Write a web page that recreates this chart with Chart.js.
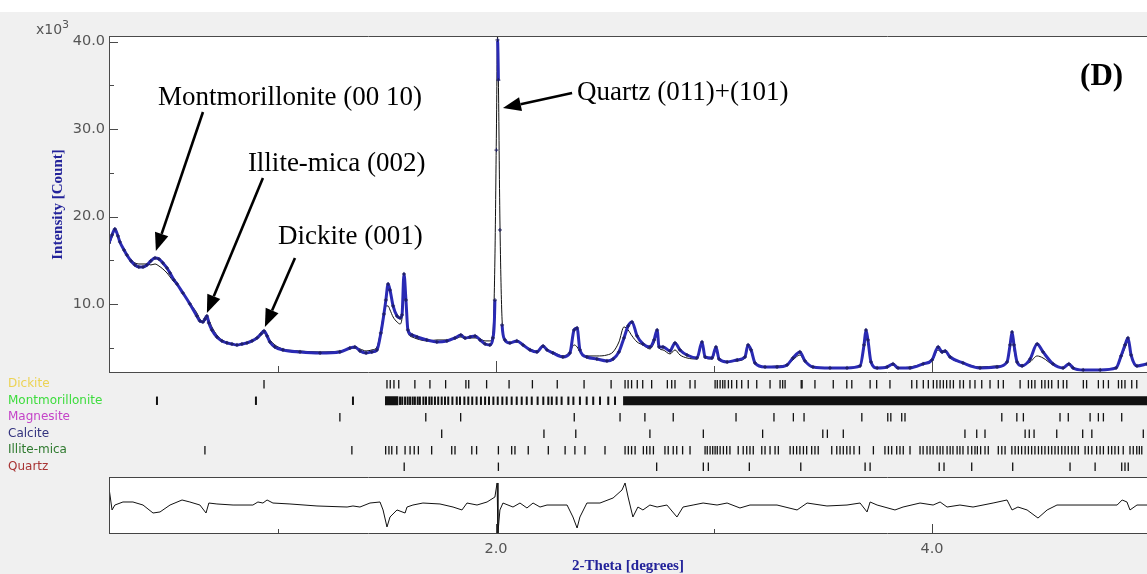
<!DOCTYPE html>
<html>
<head>
<meta charset="utf-8">
<title>Rietveld fit (D)</title>
<script src="https://cdn.jsdelivr.net/npm/chart.js@4.4.1/dist/chart.umd.min.js"></script>
<style>
  html, body { margin: 0; padding: 0; }
  body { width: 1147px; height: 574px; position: relative; overflow: hidden; background: #f0f0f0; }
  #topStrip { position: absolute; left: 0; top: 0; width: 1147px; height: 12px; background: #fff; }
  canvas { position: absolute; left: 0; }
  #main { top: 0; }
  #phases { top: 374px; }
  #diff { top: 470px; }
  #mult { position: absolute; left: 36px; top: 18px; font: 14px 'DejaVu Sans', sans-serif; color: #555; }
  #mult sup { font-size: 11px; }
</style>
</head>
<body>
<div id="topStrip"></div>
<canvas id="main" width="1147" height="380"></canvas>
<canvas id="phases" width="1147" height="103"></canvas>
<canvas id="diff" width="1147" height="104"></canvas>
<div id="mult">x10<sup>3</sup></div>

<script>
// --- data (2-theta in degrees, intensity in 10^3 counts) ---
const twoTheta = [
  0.225, 0.239, 0.252, 0.266, 0.275, 0.294, 0.307, 0.326, 0.344, 0.362,
  0.381, 0.399, 0.417, 0.436, 0.454, 0.472, 0.491, 0.505, 0.523, 0.537,
  0.564, 0.596, 0.628, 0.642, 0.656, 0.665, 0.674, 0.683, 0.697, 0.720,
  0.743, 0.766, 0.789, 0.812, 0.835, 0.858, 0.881, 0.904, 0.922, 0.936,
  0.950, 0.963, 0.986, 1.023, 1.101, 1.193, 1.284, 1.330, 1.353, 1.376,
  1.404, 1.431, 1.454, 1.472, 1.486, 1.495, 1.505, 1.514, 1.528, 1.546,
  1.560, 1.569, 1.578, 1.587, 1.596, 1.615, 1.638, 1.683, 1.729, 1.775,
  1.812, 1.839, 1.858, 1.881, 1.904, 1.927, 1.950, 1.972, 1.986, 1.995,
  2.002, 2.007, 2.011, 2.018, 2.028, 2.041, 2.064, 2.096, 2.124, 2.156,
  2.188, 2.216, 2.234, 2.261, 2.307, 2.339, 2.358, 2.372, 2.385, 2.417,
  2.463, 2.509, 2.537, 2.564, 2.587, 2.606, 2.624, 2.647, 2.674, 2.706,
  2.725, 2.739, 2.748, 2.766, 2.798, 2.821, 2.844, 2.876, 2.922, 2.945,
  2.959, 2.991, 3.009, 3.023, 3.060, 3.106, 3.142, 3.156, 3.170, 3.188,
  3.234, 3.289, 3.335, 3.362, 3.394, 3.417, 3.454, 3.532, 3.610, 3.670,
  3.688, 3.697, 3.706, 3.720, 3.748, 3.794, 3.821, 3.844, 3.899, 3.959,
  4.000, 4.028, 4.046, 4.060, 4.083, 4.142, 4.220, 4.298, 4.344, 4.358,
  4.367, 4.376, 4.390, 4.413, 4.450, 4.482, 4.509, 4.555, 4.601, 4.628,
  4.647, 4.693, 4.771, 4.844, 4.867, 4.885, 4.899, 4.913, 4.940, 4.986
];
const observed = [
  16.97, 17.89, 18.57, 17.77, 17.09, 16.17, 15.60, 14.92, 14.46, 14.23,
  14.23, 14.46, 14.92, 15.26, 15.14, 14.69, 14.11, 13.54, 12.74, 12.28,
  11.25, 10.00, 8.62, 8.05, 7.94, 8.28, 8.62, 7.82, 7.02, 6.22,
  5.77, 5.54, 5.42, 5.31, 5.42, 5.54, 5.77, 6.11, 6.56, 6.91,
  6.34, 5.65, 5.08, 4.74, 4.51, 4.39, 4.51, 4.96, 5.08, 4.62,
  4.39, 4.51, 4.74, 6.68, 8.85, 10.45, 12.28, 11.59, 9.77, 8.62,
  8.40, 8.74, 13.43, 10.45, 7.02, 6.45, 6.22, 5.88, 5.65, 5.77,
  6.11, 6.45, 6.11, 6.22, 6.34, 5.88, 5.42, 5.31, 6.11, 10.45,
  27.6, 40.2, 35.6, 18.46, 7.6, 5.88, 5.54, 5.77, 5.31, 4.74,
  4.51, 5.19, 4.74, 4.39, 3.93, 4.39, 7.02, 7.25, 4.74, 3.93,
  3.70, 3.48, 3.70, 4.51, 6.11, 7.48, 7.94, 6.34, 5.42, 5.08,
  5.88, 7.02, 5.08, 5.08, 4.62, 5.54, 4.74, 4.16, 3.82, 5.65,
  3.93, 3.82, 5.08, 3.70, 3.36, 3.59, 3.93, 5.31, 4.74, 3.25,
  2.79, 2.79, 3.02, 3.82, 4.51, 3.48, 2.79, 2.68, 2.68, 2.91,
  5.31, 7.02, 5.88, 3.36, 2.68, 2.79, 3.14, 2.68, 2.68, 3.14,
  3.59, 5.08, 4.51, 4.62, 3.93, 3.25, 2.68, 2.79, 3.36, 5.31,
  6.79, 5.31, 3.36, 2.91, 3.70, 5.42, 4.51, 3.14, 2.68, 3.14,
  2.68, 2.45, 2.45, 2.68, 4.05, 5.31, 6.11, 4.16, 2.91, 3.14
];
const calculated = [
  16.63, 17.66, 18.35, 17.66, 16.97, 16.17, 15.60, 15.03, 14.69, 14.57,
  14.57, 14.57, 14.46, 14.57, 14.34, 14.00, 13.54, 13.09, 12.51, 12.17,
  11.25, 10.11, 8.97, 8.28, 7.94, 8.05, 8.40, 8.17, 7.37, 6.45,
  5.88, 5.65, 5.42, 5.31, 5.42, 5.54, 5.77, 6.00, 6.45, 6.68,
  6.34, 5.88, 5.31, 4.85, 4.62, 4.51, 4.62, 4.85, 4.96, 4.85,
  4.62, 4.74, 5.08, 7.02, 9.08, 9.77, 9.77, 9.31, 8.51, 7.94,
  7.71, 8.40, 11.60, 9.88, 6.79, 6.22, 6.00, 5.77, 5.88, 5.88,
  6.00, 6.22, 6.00, 6.11, 6.11, 6.00, 5.77, 5.77, 6.79, 15.03,
  29.9, 40.6, 35.6, 19.6, 8.17, 5.77, 5.54, 5.65, 5.31, 4.85,
  4.62, 5.08, 4.74, 4.51, 4.05, 4.51, 5.31, 5.08, 4.51, 4.05,
  4.05, 4.16, 4.51, 5.65, 7.37, 7.02, 6.34, 5.65, 5.31, 4.85,
  5.54, 6.45, 4.96, 4.74, 4.28, 4.74, 4.16, 3.82, 3.70, 5.31,
  3.82, 3.70, 4.74, 3.59, 3.36, 3.48, 3.82, 5.08, 4.51, 3.25,
  2.79, 2.91, 3.02, 3.59, 4.16, 3.36, 2.79, 2.68, 2.68, 2.91,
  4.96, 6.11, 5.65, 3.36, 2.68, 2.79, 3.02, 2.68, 2.79, 3.14,
  3.48, 4.74, 4.39, 4.51, 3.82, 3.25, 2.79, 2.91, 3.25, 5.31,
  6.22, 4.74, 3.36, 3.02, 3.36, 4.05, 3.82, 3.02, 2.68, 3.14,
  2.68, 2.45, 2.45, 2.68, 3.82, 4.96, 5.65, 4.05, 2.91, 3.14
];

// observed minus calculated (10^3 counts)
const diffTheta = [
  0.225, 0.239, 0.252, 0.289, 0.335, 0.381, 0.427, 0.459, 0.505, 0.560,
  0.596, 0.642, 0.670, 0.683, 0.720, 0.794, 0.885, 0.908, 0.931, 0.950,
  0.977, 1.055, 1.179, 1.317, 1.344, 1.376, 1.422, 1.468, 1.482, 1.500,
  1.514, 1.546, 1.583, 1.592, 1.619, 1.665, 1.743, 1.803, 1.844, 1.867,
  1.913, 1.959, 1.995, 2.005, 2.009, 2.018, 2.032, 2.078, 2.110, 2.142,
  2.170, 2.202, 2.234, 2.326, 2.353, 2.372, 2.385, 2.417, 2.477, 2.537,
  2.578, 2.592, 2.606, 2.628, 2.651, 2.674, 2.706, 2.739, 2.784, 2.830,
  2.858, 2.904, 2.950, 3.014, 3.060, 3.119, 3.165, 3.289, 3.381, 3.427,
  3.518, 3.610, 3.670, 3.702, 3.716, 3.748, 3.830, 3.867, 3.945, 4.005,
  4.037, 4.069, 4.128, 4.188, 4.280, 4.344, 4.367, 4.394, 4.436, 4.486,
  4.528, 4.573, 4.665, 4.849, 4.872, 4.894, 4.908, 4.940, 4.986
];
const difference = [
  1.84, -0.47, 0.05, 0.37, 0.37, 0.05, -0.79, -0.68, 0.05, 0.58,
  0.37, 0.05, -0.79, 0.26, 0.16, 0.05, 0.05, 0.37, 0.26, 0.58,
  0.26, 0.16, -0.05, -0.16, -0.05, -0.16, 0.26, 0.37, -0.47, -2.26,
  -1.21, -0.47, -0.79, -0.16, 0.05, 0.26, 0.16, -0.16, -0.47, 0.26,
  0.05, 0.37, 0.89, 2.37, -2.89, -0.47, 0.26, -0.16, 0.26, -0.26,
  0.26, -0.16, 0.05, 0.05, -1.21, -2.37, -1.21, 0.26, 0.26, 0.79,
  1.63, 2.37, 0.89, -1.21, -0.16, -0.47, 0.05, -0.16, 0.05, -1.21,
  -0.16, 0.05, 0.26, 0.05, 0.26, -0.26, 0.05, 0.05, -0.47, 0.26,
  -0.05, 0.05, 0.26, -0.68, 0.37, 0.05, -0.47, -0.16, 0.26, 0.05,
  0.37, -0.16, 0.05, -0.16, 0.26, 0.58, -0.47, -0.16, -0.47, -1.32,
  -0.47, 0.05, 0.05, 0.05, 0.58, 0.37, -0.47, 0.05, 0.05
];

// reference reflection positions (2-theta) per phase
const phaseNames = ['Dickite', 'Montmorillonite', 'Magnesite', 'Calcite', 'Illite-mica', 'Quartz'];
const phaseColors = ['#ecd354', '#3ddc3d', '#c443c8', '#33337e', '#2f7a2f', '#a83434'];
const dickitePeaks = [
  0.936, 1.500, 1.515, 1.532, 1.554, 1.628, 1.697, 1.769, 1.862, 1.875,
  1.957, 2.060, 2.167, 2.281, 2.404, 2.528, 2.592, 2.606, 2.622, 2.648,
  2.673, 2.714, 2.786, 2.806, 2.821, 2.890, 2.913, 3.005, 3.015, 3.028,
  3.040, 3.050, 3.066, 3.081, 3.104, 3.127, 3.157, 3.196, 3.257, 3.303,
  3.315, 3.326, 3.400, 3.404, 3.463, 3.547, 3.609, 3.632, 3.716, 3.746,
  3.807, 3.907, 3.930, 3.960, 3.983, 4.006, 4.022, 4.037, 4.052, 4.067,
  4.083, 4.098, 4.128, 4.144, 4.174, 4.197, 4.228, 4.266, 4.304, 4.327,
  4.404, 4.442, 4.457, 4.472, 4.503, 4.518, 4.534, 4.549, 4.579, 4.602,
  4.618, 4.694, 4.709, 4.763, 4.786, 4.809, 4.855, 4.870, 4.885, 4.916,
  4.939
];
const montmorillonitePeaks = [
  0.445, 0.899, 1.344, 1.560, 1.570, 1.583, 1.595, 1.606, 1.618, 1.628,
  1.641, 1.651, 1.667, 1.679, 1.694, 1.705, 1.720, 1.735, 1.751, 1.766,
  1.781, 1.800, 1.820, 1.835, 1.855, 1.873, 1.891, 1.911, 1.931, 1.950,
  1.968, 1.988, 2.008, 2.029, 2.049, 2.072, 2.095, 2.118, 2.141, 2.164,
  2.191, 2.217, 2.240, 2.256, 2.278, 2.301, 2.332, 2.355, 2.385, 2.416,
  2.446, 2.477, 2.515, 2.546
];
// ranges where montmorillonite reflections merge into a solid band
const montmorilloniteBands = [[1.491, 1.552], [2.583, 4.986]];
const magnesitePeaks = [
  1.284, 1.678, 1.838, 2.359, 2.569, 2.683, 2.813, 3.101, 3.275, 3.364,
  3.413, 3.678, 3.797, 3.811, 3.861, 3.876, 4.320, 4.389, 4.419, 4.587,
  4.625, 4.725, 4.763, 4.786, 4.870
];
const calcitePeaks = [
  1.751, 2.220, 2.366, 2.706, 2.951, 3.223, 3.499, 3.520, 3.593, 4.151,
  4.205, 4.243, 4.427, 4.446, 4.468, 4.572, 4.691, 4.733, 4.969
];
const illitePeaks = [
  0.665, 1.339, 1.494, 1.509, 1.522, 1.545, 1.583, 1.606, 1.625, 1.644,
  1.705, 1.797, 1.812, 1.889, 1.911, 2.011, 2.072, 2.087, 2.148, 2.240,
  2.317, 2.362, 2.408, 2.500, 2.592, 2.607, 2.622, 2.638, 2.676, 2.691,
  2.706, 2.722, 2.775, 2.790, 2.813, 2.829, 2.856, 2.890, 2.959, 2.969,
  2.982, 2.994, 3.005, 3.015, 3.028, 3.043, 3.058, 3.073, 3.111, 3.134,
  3.150, 3.165, 3.180, 3.219, 3.234, 3.257, 3.280, 3.295, 3.349, 3.364,
  3.379, 3.394, 3.410, 3.425, 3.448, 3.463, 3.478, 3.540, 3.563, 3.578,
  3.593, 3.609, 3.624, 3.642, 3.667, 3.731, 3.784, 3.800, 3.815, 3.838,
  3.853, 3.868, 3.899, 3.945, 3.959, 3.977, 3.991, 4.005, 4.023, 4.037,
  4.050, 4.069, 4.083, 4.096, 4.115, 4.128, 4.142, 4.165, 4.182, 4.197,
  4.208, 4.223, 4.243, 4.258, 4.304, 4.320, 4.335, 4.366, 4.381, 4.396,
  4.411, 4.427, 4.442, 4.457, 4.472, 4.488, 4.503, 4.518, 4.534, 4.549,
  4.564, 4.579, 4.595, 4.610, 4.625, 4.641, 4.656, 4.671, 4.702, 4.717,
  4.733, 4.755, 4.771, 4.786, 4.809, 4.824, 4.839, 4.855, 4.877, 4.908,
  4.923, 4.939, 4.951, 4.962
];
const quartzPeaks = [
  1.579, 2.011, 2.737, 2.951, 2.974, 3.162, 3.398, 3.693, 3.716, 4.033,
  4.055, 4.182, 4.370, 4.633, 4.748, 4.870, 4.885, 4.900
];

// axis ranges and ticks
const xMin = 0.225, xMax = 4.986;
const yMin = 2.1, yMax = 40.65;
const xMajorTicks = [2, 4];
const xMinorTicks = [1, 3];
const yMajorTicks = [10, 20, 30, 40];
const yMinorTicks = [5, 15, 25, 35];

const OBS_BLUE = '#2a2ab4';
const TITLE_BLUE = '#23239a';
const SERIF = "'Times New Roman', 'Liberation Serif', serif";

// annotation callouts, in data coordinates
const callouts = [
  { text: 'Montmorillonite (00 10)', at: [0.450, 32.76], tail: [0.656, 31.96], tip: [0.440, 16.06] },
  { text: 'Illite-mica (002)',       at: [0.862, 25.21], tail: [0.931, 24.41], tip: [0.674, 8.97] },
  { text: 'Dickite (001)',           at: [1.000, 16.86], tail: [1.078, 15.26], tip: [0.940, 7.37] },
  { text: 'Quartz (011)+(101)',      at: [2.372, 33.33], tail: [2.349, 34.13], tip: [2.032, 32.41] }
];
const panelTag = { text: '(D)', at: [4.679, 35.05] };

Chart.defaults.font.family = "'DejaVu Sans', sans-serif";
Chart.defaults.animation = false;

// keep the plot box where the axis is, not where the labels would push it
const noLabelPadding = s => { s.paddingTop = 0; s.paddingBottom = 0; s.paddingLeft = 0; s.paddingRight = 0; };

// white plot box, frame lines and inward tick marks
const framePlugin = {
  id: 'frame',
  beforeDraw(chart, args, opts) {
    const a = chart.chartArea, ctx = chart.ctx;
    if (opts.fill) {
      ctx.save();
      ctx.fillStyle = opts.fill;
      ctx.fillRect(a.left, a.top, a.right - a.left, a.bottom - a.top);
      ctx.restore();
    }
  },
  afterDatasetsDraw(chart, args, opts) {
    const a = chart.chartArea, ctx = chart.ctx;
    const line = (x0, y0, x1, y1) => { ctx.beginPath(); ctx.moveTo(x0, y0); ctx.lineTo(x1, y1); ctx.stroke(); };
    ctx.save();
    ctx.lineWidth = 1;
    ctx.strokeStyle = opts.color || '#444';
    (opts.sides || []).forEach(s => {
      if (s === 'top') line(a.left, a.top + 0.5, a.right, a.top + 0.5);
      if (s === 'left') line(a.left + 0.5, a.top, a.left + 0.5, a.bottom);
      if (s === 'bottom') line(a.left, a.bottom - 0.5, a.right, a.bottom - 0.5);
    });
    const xs = chart.scales.x, ys = chart.scales.y;
    (opts.xTicks || []).forEach(t => t.values.forEach(v => {
      const px = Math.round(xs.getPixelForValue(v)) + 0.5;
      line(px, a.bottom, px, a.bottom - t.len);
    }));
    (opts.yTicks || []).forEach(t => t.values.forEach(v => {
      const py = Math.round(ys.getPixelForValue(v)) + 0.5;
      line(a.left, py, a.left + t.len, py);
    }));
    ctx.restore();
  }
};

function drawArrow(ctx, x0, y0, x1, y1) {
  const ang = Math.atan2(y1 - y0, x1 - x0), head = 18, half = 7;
  const bx = x1 - head * Math.cos(ang), by = y1 - head * Math.sin(ang);
  ctx.lineWidth = 2.6;
  ctx.beginPath(); ctx.moveTo(x0, y0); ctx.lineTo(bx, by); ctx.stroke();
  ctx.beginPath();
  ctx.moveTo(x1, y1);
  ctx.lineTo(bx + half * Math.sin(ang), by - half * Math.cos(ang));
  ctx.lineTo(bx - half * Math.sin(ang), by + half * Math.cos(ang));
  ctx.closePath(); ctx.fill();
}

const calloutPlugin = {
  id: 'callouts',
  afterDatasetsDraw(chart) {
    const { ctx } = chart, x = chart.scales.x, y = chart.scales.y;
    ctx.save();
    ctx.fillStyle = '#000';
    ctx.strokeStyle = '#000';
    ctx.textBaseline = 'alphabetic';
    ctx.font = '27px ' + SERIF;
    callouts.forEach(c => {
      ctx.fillText(c.text, x.getPixelForValue(c.at[0]), y.getPixelForValue(c.at[1]));
      drawArrow(ctx, x.getPixelForValue(c.tail[0]), y.getPixelForValue(c.tail[1]),
                x.getPixelForValue(c.tip[0]), y.getPixelForValue(c.tip[1]));
    });
    ctx.font = 'bold 31px ' + SERIF;
    ctx.fillText(panelTag.text, x.getPixelForValue(panelTag.at[0]), y.getPixelForValue(panelTag.at[1]));
    ctx.restore();
  }
};

const toPoints = (xs, ys) => xs.map((v, i) => ({ x: v, y: ys[i] }));

// main pattern: observed (blue + markers) and calculated (black line)
new Chart(document.getElementById('main'), {
  type: 'line',
  data: {
    datasets: [
      {
        label: 'Observed',
        data: toPoints(twoTheta, observed),
        borderColor: OBS_BLUE,
        borderWidth: 3,
        pointStyle: 'cross',
        pointRadius: 2,
        pointBorderWidth: 1,
        pointBorderColor: '#1c1c5a',
        cubicInterpolationMode: 'monotone',
        segment: {
          borderColor: ctx => Math.abs(ctx.p1.y - ctx.p0.y) > 60 ? 'rgba(0,0,0,0)' : OBS_BLUE
        },
        order: 1
      },
      {
        label: 'Calculated',
        data: toPoints(twoTheta, calculated),
        borderColor: '#111',
        borderWidth: 1,
        pointRadius: 0,
        cubicInterpolationMode: 'monotone',
        order: 2
      }
    ]
  },
  options: {
    responsive: false,
    layout: { autoPadding: false, padding: { left: 0, top: 36, right: 0, bottom: 7 } },
    plugins: {
      legend: { display: false },
      tooltip: { enabled: false },
      frame: {
        fill: '#ffffff',
        color: '#4a4a4a',
        sides: ['top', 'left', 'bottom'],
        xTicks: [{ values: xMajorTicks, len: 12 }, { values: xMinorTicks, len: 7 }],
        yTicks: [{ values: yMajorTicks, len: 9 }, { values: yMinorTicks, len: 5 }]
      }
    },
    scales: {
      x: { type: 'linear', min: xMin, max: xMax, display: false },
      y: {
        type: 'linear', min: yMin, max: yMax,
        afterBuildTicks: s => { s.ticks = yMajorTicks.map(v => ({ value: v })); },
        afterFit: s => { s.width = 109; noLabelPadding(s); },
        grid: { display: false, drawTicks: false },
        border: { display: false },
        ticks: { callback: v => v.toFixed(1), color: '#555', padding: 4, font: { size: 14.5 } },
        title: {
          display: true, text: 'Intensity [Count]', color: TITLE_BLUE,
          font: { family: SERIF, size: 15, weight: 'bold', lineHeight: 1.2 },
          padding: { top: 49, bottom: 0 }
        }
      }
    }
  },
  plugins: [framePlugin, calloutPlugin]
});

// reflection tick rows
const rowOf = name => phaseNames.indexOf(name);
const tickSet = (name, peaks, width) => ({
  data: peaks.map(p => ({ x: p, y: rowOf(name) })),
  pointStyle: 'line', rotation: 90, pointRadius: 4.2,
  pointBorderWidth: width, pointBorderColor: '#111', showLine: false
});
const bandSets = montmorilloniteBands.map(b => ({
  data: [{ x: b[0], y: rowOf('Montmorillonite') }, { x: b[1], y: rowOf('Montmorillonite') }],
  showLine: true, borderColor: '#111', borderWidth: 9, borderCapStyle: 'butt', pointRadius: 0
}));

new Chart(document.getElementById('phases'), {
  type: 'scatter',
  data: {
    datasets: [
      tickSet('Dickite', dickitePeaks, 1.3),
      tickSet('Montmorillonite', montmorillonitePeaks, 2),
      tickSet('Magnesite', magnesitePeaks, 1.3),
      tickSet('Calcite', calcitePeaks, 1.3),
      tickSet('Illite-mica', illitePeaks, 1.3),
      tickSet('Quartz', quartzPeaks, 1.3),
      ...bandSets
    ]
  },
  options: {
    responsive: false,
    layout: { autoPadding: false, padding: { left: 8, top: 2, right: 0, bottom: 2 } },
    plugins: { legend: { display: false }, tooltip: { enabled: false } },
    scales: {
      x: { type: 'linear', min: xMin, max: xMax, display: false },
      y: {
        type: 'linear', min: -0.5, max: 5.5, reverse: true,
        afterBuildTicks: s => { s.ticks = phaseNames.map((n, i) => ({ value: i })); },
        afterFit: s => { s.width = 101; noLabelPadding(s); },
        grid: { display: false, drawTicks: false },
        border: { display: false },
        ticks: {
          autoSkip: false, crossAlign: 'far', padding: 0,
          callback: v => phaseNames[v],
          color: c => phaseColors[c.tick.value],
          font: { size: 12 }
        }
      }
    }
  }
});

// difference curve
new Chart(document.getElementById('diff'), {
  type: 'line',
  data: {
    datasets: [{
      label: 'Difference',
      data: toPoints(diffTheta, difference),
      borderColor: '#111', borderWidth: 1, pointRadius: 0, tension: 0
    }]
  },
  options: {
    responsive: false,
    layout: { autoPadding: false, padding: { left: 109, top: 7, right: 0, bottom: 0 } },
    plugins: {
      legend: { display: false },
      tooltip: { enabled: false },
      frame: {
        fill: '#ffffff',
        color: '#444',
        sides: ['top', 'left', 'bottom'],
        xTicks: [{ values: xMajorTicks, len: 10 }, { values: xMinorTicks, len: 5 }]
      }
    },
    scales: {
      x: {
        type: 'linear', min: xMin, max: xMax,
        afterBuildTicks: s => { s.ticks = [...xMinorTicks, ...xMajorTicks].sort().map(v => ({ value: v })); },
        afterFit: s => { s.height = 40; noLabelPadding(s); },
        grid: { display: false, drawTicks: false },
        border: { display: false },
        ticks: {
          autoSkip: false, maxRotation: 0, padding: 7, color: '#555', font: { size: 14.5 },
          callback: v => xMajorTicks.includes(v) ? v.toFixed(1) : ''
        },
        title: {
          display: true, text: '2-Theta [degrees]', color: TITLE_BLUE,
          font: { family: SERIF, size: 15, weight: 'bold', lineHeight: 1 },
          padding: { top: 0, bottom: 0 }
        }
      },
      y: { type: 'linear', min: -3, max: 3, display: false }
    }
  },
  plugins: [framePlugin]
});
</script>
</body>
</html>
